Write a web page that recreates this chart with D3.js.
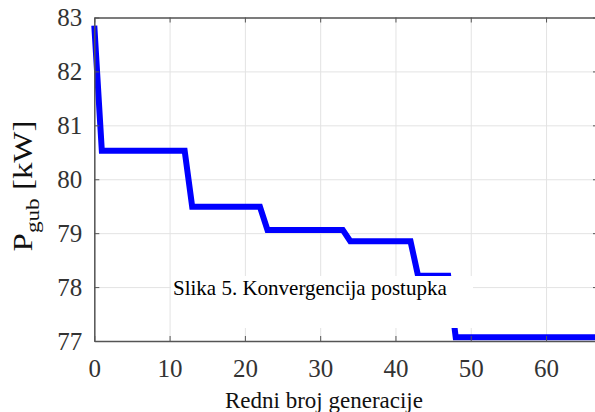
<!DOCTYPE html>
<html>
<head>
<meta charset="utf-8">
<script src="https://cdn.jsdelivr.net/npm/d3@7"></script>
<style>
  body { margin: 0; background: #fff; }
  svg { display: block; }
  text { font-family: "Liberation Serif", "Times New Roman", serif; }
</style>
</head>
<body>
<div id="chart"></div>
<script>
// best individual per generation (only the corners of the steps)
var generations = [0, 1, 12, 13, 22, 23, 33, 34, 42, 43, 47, 48, 70];
var losses = [82.85, 80.53, 80.53, 79.49, 79.49, 79.06, 79.06, 78.85, 78.85, 78.21, 78.21, 77.07, 77.07];
var xTicks = [0, 10, 20, 30, 40, 50, 60];
var yTicks = [77, 78, 79, 80, 81, 82, 83];
var caption = 'Slika 5. Konvergencija postupka';

var width = 595;
var height = 412;
// note: "top" is taken by window.top, so plot edges get their own names
var plotLeft = 94.3, plotRight = 598, plotTop = 17.5, plotBottom = 341;
var axisColor = '#555';
var gridColor = '#e3e3e3';
var serif = '"Liberation Serif", "Times New Roman", serif';

var x = d3.scaleLinear().domain([0, 66.9]).range([plotLeft, plotRight]);
var y = d3.scaleLinear().domain([77, 83]).range([plotBottom, plotTop]);

var svg = d3.select('#chart').append('svg')
    .attr('width', width)
    .attr('height', height);

// grid
svg.append('g')
    .attr('transform', 'translate(0,' + plotBottom + ')')
    .call(d3.axisBottom(x).tickValues(xTicks).tickSize(-(plotBottom - plotTop)).tickFormat(''))
    .call(function (g) {
      g.select('.domain').remove();
      g.selectAll('line').attr('stroke', gridColor).attr('stroke-width', 1);
    });
svg.append('g')
    .attr('transform', 'translate(' + plotLeft + ',0)')
    .call(d3.axisLeft(y).tickValues(yTicks).tickSize(-(plotRight - plotLeft)).tickFormat(''))
    .call(function (g) {
      g.select('.domain').remove();
      g.selectAll('line').attr('stroke', gridColor).attr('stroke-width', 1);
    });

// the curve
var line = d3.line()
    .x(function (d) { return x(d[0]); })
    .y(function (d) { return y(d[1]); });

svg.append('path')
    .datum(d3.zip(generations, losses))
    .attr('d', line)
    .attr('fill', 'none')
    .attr('stroke', '#0000ff')
    .attr('stroke-width', 6)
    .attr('stroke-linejoin', 'miter');

// box axes, ticks pointing in
function styleAxis(g) {
  g.attr('font-family', serif);
  g.select('.domain').attr('stroke', axisColor).attr('stroke-width', 1.5);
  g.selectAll('.tick line').attr('stroke', axisColor).attr('stroke-width', 1);
  g.selectAll('.tick text')
      .attr('fill', '#333')
      .attr('font-size', 25);
}

svg.append('g')
    .attr('transform', 'translate(0,' + plotBottom + ')')
    .call(d3.axisBottom(x).tickValues(xTicks).tickFormat(d3.format('d'))
      .tickSizeInner(-5).tickSizeOuter(0).tickPadding(18))
    .call(styleAxis);
svg.append('g')
    .attr('transform', 'translate(0,' + plotTop + ')')
    .call(d3.axisTop(x).tickValues(xTicks).tickSizeInner(-5).tickSizeOuter(0).tickFormat(''))
    .call(styleAxis);
svg.append('g')
    .attr('transform', 'translate(' + plotLeft + ',0)')
    .call(d3.axisLeft(y).tickValues(yTicks).tickFormat(d3.format('d'))
      .tickSizeInner(-5).tickSizeOuter(0).tickPadding(12))
    .call(styleAxis);
svg.append('g')
    .attr('transform', 'translate(' + plotRight + ',0)')
    .call(d3.axisRight(y).tickValues(yTicks).tickSizeInner(-5).tickSizeOuter(0).tickFormat(''))
    .call(styleAxis);

// axis labels
svg.append('text')
    .attr('x', 324)
    .attr('y', 408)
    .attr('text-anchor', 'middle')
    .attr('font-size', 23)
    .attr('fill', '#111')
    .text('Redni broj generacije');

// the y label in the figure is drawn a bit stretched along its length
var ylab = svg.append('text')
    .attr('transform', 'translate(32,186) rotate(-90) scale(1.22,1)')
    .attr('text-anchor', 'middle')
    .attr('font-size', 27)
    .attr('fill', '#111');
ylab.append('tspan').text('P');
ylab.append('tspan').attr('font-size', 19).attr('dy', 7).text('gub');
ylab.append('tspan').attr('dy', -7).text(' [kW]');

// caption pasted over the plot
svg.append('rect')
    .attr('x', 171)
    .attr('y', 276)
    .attr('width', 302)
    .attr('height', 52)
    .attr('fill', '#fff');
svg.append('text')
    .attr('x', 173)
    .attr('y', 295)
    .attr('font-size', 21)
    .attr('fill', '#000')
    .text(caption);
</script>
</body>
</html>
